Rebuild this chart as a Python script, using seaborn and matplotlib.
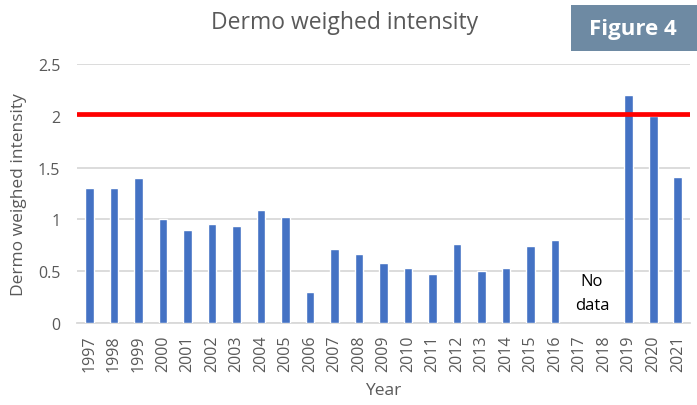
import numpy as np
import pandas as pd
import matplotlib
matplotlib.use("Agg")
import matplotlib.pyplot as plt
import seaborn as sns

years = [str(y) for y in range(1997, 2022)]
values = [1.30, 1.30, 1.40, 1.00, 0.90, 0.96, 0.94, 1.09, 1.02, 0.30,
          0.71, 0.67, 0.58, 0.53, 0.47, 0.76, 0.50, 0.53, 0.74, 0.80,
          np.nan, np.nan, 2.20, 2.00, 1.41]
threshold = 2.02
yticks = [0, 0.5, 1, 1.5, 2, 2.5]
ytick_labels = ["0", "0.5", "1", "1.5", "2", "2.5"]

sns.set_theme(style="white")
plt.rcParams['font.family'] = ['Open Sans', 'DejaVu Sans']

df = pd.DataFrame({"Year": years, "Value": values})

fig = plt.figure(figsize=(6.97, 4.06), dpi=100)
ax = fig.add_axes([0.1105, 0.202, 0.8795, 0.638])

sns.barplot(data=df, x="Year", y="Value", order=years, color="#4472C4",
            width=0.35, saturation=1, ax=ax, zorder=3)

ax.set_ylim(0, 2.5)
ax.set_xlim(-0.5, len(years) - 0.5)
ax.set_yticks(yticks)
ax.set_yticklabels(ytick_labels)
ax.yaxis.grid(True, color="#D9D9D9", linewidth=1.3, zorder=0)
ax.set_axisbelow(True)
for s in ["top", "right", "left"]:
    ax.spines[s].set_visible(False)
ax.spines["bottom"].set_color("#D9D9D9")
ax.spines["bottom"].set_linewidth(1.3)

ax.axhline(threshold, color="#FF0000", linewidth=3.4, zorder=4)

ax.tick_params(axis="x", rotation=90, labelsize=11.5, colors="#595959", length=0, pad=8)
ax.tick_params(axis="y", labelsize=11.5, colors="#595959", length=0, pad=12)

ax.set_xlabel("Year", fontsize=12.5, color="#595959", labelpad=8)
ax.set_ylabel("Dermo weighed intensity", fontsize=12.5, color="#595959", labelpad=8)

ax.text(20.5, 0.29, "No\ndata", ha="center", va="center", fontsize=12,
        color="#000000", linespacing=1.6)

fig.text(0.495, 0.943, "Dermo weighed intensity", ha="center", va="center",
         fontsize=16.5, color="#595959")

fig.patches.append(matplotlib.patches.Rectangle((571/697, 1 - 52/406), (697 - 571)/697, 46/406,
                   transform=fig.transFigure, facecolor="#6E8AA3", edgecolor="none"))
fig.text(633/697, 1 - 29/406, "Figure 4", ha="center", va="center", fontsize=16,
         color="white", fontweight="bold")

fig.savefig("out.png", dpi=100)
